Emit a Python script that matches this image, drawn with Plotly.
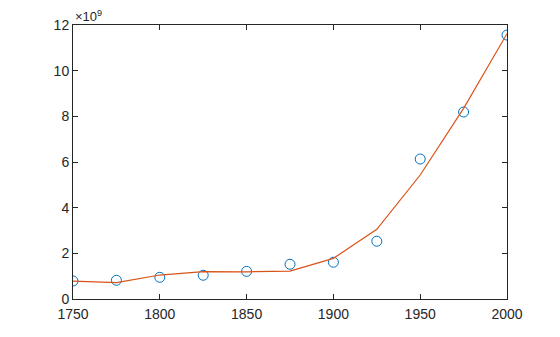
import plotly.graph_objects as go

years = [1750, 1775, 1800, 1825, 1850, 1875, 1900, 1925, 1950, 1975, 2000]
observed = [0.79, 0.82, 0.95, 1.04, 1.21, 1.52, 1.61, 2.53, 6.13, 8.19, 11.56]
fitted = [0.78, 0.72, 1.05, 1.20, 1.19, 1.22, 1.78, 3.05, 5.43, 8.35, 11.62]
scale = 1e9
x_ticks = [1750, 1800, 1850, 1900, 1950, 2000]
y_ticks = [0, 2, 4, 6, 8, 10, 12]

fig = go.Figure()
fig.add_trace(go.Scatter(x=years, y=[v * scale for v in observed], mode="markers",
                         marker=dict(symbol="circle-open", size=10, color="#0072BD",
                                     line=dict(width=1, color="#0072BD")),
                         showlegend=False))
fig.add_trace(go.Scatter(x=years, y=[v * scale for v in fitted], mode="lines",
                         line=dict(color="#D95319", width=1.2), showlegend=False))

ax = dict(showgrid=False, zeroline=False, showline=True, linecolor="#262626", linewidth=1,
          mirror="ticks", ticks="inside", ticklen=5, tickcolor="#262626",
          tickfont=dict(family="Liberation Sans, Arial", size=14, color="#262626"))
fig.update_xaxes(range=[1750, 2000], tickvals=x_ticks, ticktext=[str(t) for t in x_ticks],
                 ticklabelstandoff=2, **ax)
fig.update_yaxes(range=[0, 12 * scale], tickvals=[t * scale for t in y_ticks],
                 ticktext=[str(t) for t in y_ticks], **ax)
fig.add_annotation(text="×10<sup>9</sup>", xref="paper", yref="paper", x=0, y=1,
                   xanchor="left", yanchor="bottom", showarrow=False, yshift=-1,
                   font=dict(family="Liberation Sans, Arial", size=13, color="#262626"))
fig.update_layout(width=560, height=337, plot_bgcolor="white", paper_bgcolor="white",
                  margin=dict(l=73, r=53, t=25, b=38))
fig.write_html("out.html")
